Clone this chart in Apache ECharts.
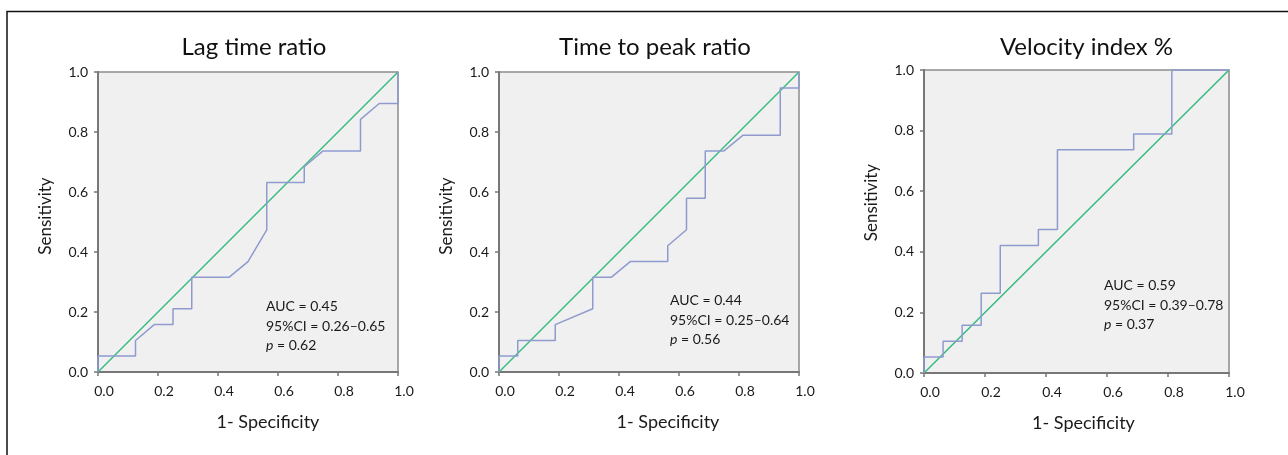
<!DOCTYPE html>
<html>
<head>
<meta charset="utf-8">
<script src="https://cdn.jsdelivr.net/npm/echarts@6/dist/echarts.min.js"></script>
<style>
  html, body { margin: 0; padding: 0; background: #fff; }
  #chart { width: 1288px; height: 455px; }
</style>
</head>
<body>
<div id="chart"></div>
<script>
// panel titles
const titles = ["Lag time ratio", "Time to peak ratio", "Velocity index %"];
const tickLabels = ["0.0", "0.2", "0.4", "0.6", "0.8", "1.0"];

// ROC curves (1 - specificity, sensitivity)
const lagX = [0, 0, 0.125, 0.125, 0.1875, 0.25, 0.25, 0.3125, 0.3125, 0.4375, 0.5, 0.5625, 0.5625, 0.6875, 0.6875, 0.75, 0.875, 0.875, 0.9375, 1, 1];
const lagY = [0, 0.053, 0.053, 0.105, 0.158, 0.158, 0.211, 0.211, 0.316, 0.316, 0.368, 0.474, 0.632, 0.632, 0.684, 0.737, 0.737, 0.842, 0.895, 0.895, 1];

const ttpX = [0, 0, 0.0625, 0.0625, 0.1875, 0.1875, 0.3125, 0.3125, 0.375, 0.4375, 0.5625, 0.5625, 0.625, 0.625, 0.6875, 0.6875, 0.75, 0.8125, 0.9375, 0.9375, 1, 1];
const ttpY = [0, 0.053, 0.053, 0.105, 0.105, 0.158, 0.211, 0.316, 0.316, 0.368, 0.368, 0.421, 0.474, 0.579, 0.579, 0.737, 0.737, 0.789, 0.789, 0.947, 0.947, 1];

const viX = [0, 0, 0.0625, 0.0625, 0.125, 0.125, 0.1875, 0.1875, 0.25, 0.25, 0.375, 0.375, 0.4375, 0.4375, 0.6875, 0.6875, 0.8125, 0.8125, 1];
const viY = [0, 0.053, 0.053, 0.105, 0.105, 0.158, 0.158, 0.263, 0.263, 0.421, 0.421, 0.474, 0.474, 0.737, 0.737, 0.789, 0.789, 1, 1];

// reference line
const refX = [0, 1];
const refY = [0, 1];

// stats text
const aucText = ["AUC = 0.45", "AUC = 0.44", "AUC = 0.59"];
const ciText = ["95%CI = 0.26\u20130.65", "95%CI = 0.25\u20130.64", "95%CI = 0.39\u20130.78"];
const pText = ["0.62", "0.56", "0.37"];

const font = "Lato, 'Open Sans', sans-serif";
const curves = [[lagX, lagY], [ttpX, ttpY], [viX, viY]];
const grids = [
    { left: 98, top: 72, width: 300, height: 300 },
    { left: 499, top: 72, width: 300, height: 300 },
    { left: 924, top: 70, width: 305, height: 303 }
];
const textPos = [[266, 297], [670, 291], [1104, 276]];
// axis names sit a little off-centre in the original
const xNameShift = [40, 38, 14];
const yNameShift = [12, 12, 38];

function pairs(xs, ys) {
    return xs.map((x, i) => [x, ys[i]]);
}

const chart = echarts.init(document.getElementById("chart"));

const xAxis = [];
const yAxis = [];
const series = [];
const title = [];
const graphic = [
    {
        type: "polyline",
        shape: { points: [[7, 460], [7, 11.5], [1290, 11.5]] },
        style: { stroke: "#111", lineWidth: 1.5, fill: null },
        silent: true
    }
];

grids.forEach((g, i) => {
    g.show = true;
    g.backgroundColor = "#f0f0f0";
    g.borderColor = "#8c8c8c";
    g.borderWidth = 1.5;

    xAxis.push({
        gridIndex: i,
        type: "value",
        min: 0,
        max: 1,
        interval: 0.2,
        name: "1- Specificity",
        nameLocation: "middle",
        nameGap: 41,
        nameTextStyle: { fontFamily: font, fontSize: 18, color: "#1a1a1a", padding: [0, 0, 0, xNameShift[i]] },
        axisLine: { lineStyle: { color: "#777", width: 2 } },
        axisTick: { show: true, length: 4, lineStyle: { color: "#777", width: 1.5 } },
        splitLine: { show: false },
        axisLabel: {
            fontFamily: font,
            fontSize: 14,
            color: "#1a1a1a",
            margin: 12,
            padding: [0, 0, 0, 12],
            formatter: v => tickLabels[Math.round(v * 5)]
        }
    });
    yAxis.push({
        gridIndex: i,
        type: "value",
        min: 0,
        max: 1,
        interval: 0.2,
        name: "Sensitivity",
        nameLocation: "middle",
        nameGap: 44,
        nameTextStyle: { fontFamily: font, fontSize: 17, color: "#1a1a1a", padding: [0, 0, 0, yNameShift[i]] },
        axisLine: { lineStyle: { color: "#777", width: 2 } },
        axisTick: { show: true, length: 4, lineStyle: { color: "#777", width: 1.5 } },
        splitLine: { show: false },
        axisLabel: {
            fontFamily: font,
            fontSize: 14,
            color: "#1a1a1a",
            margin: 10,
            padding: [9, 0, 0, 0],
            formatter: v => tickLabels[Math.round(v * 5)]
        }
    });

    series.push({
        type: "line",
        xAxisIndex: i,
        yAxisIndex: i,
        data: pairs(refX, refY),
        symbol: "none",
        lineStyle: { color: "#35bb7d", width: 1.5 },
        silent: true
    });
    series.push({
        type: "line",
        xAxisIndex: i,
        yAxisIndex: i,
        data: pairs(curves[i][0], curves[i][1]),
        symbol: "none",
        lineStyle: { color: "#8f9bcf", width: 1.5 },
        silent: true
    });

    title.push({
        text: titles[i],
        left: g.left + g.width / 2 + (i === 2 ? 5 : 1),
        textAlign: "center",
        top: 30,
        textStyle: { fontFamily: font, fontSize: 24, fontWeight: "normal", color: "#111" }
    });

    graphic.push({
        type: "text",
        left: textPos[i][0],
        top: textPos[i][1],
        style: {
            text: aucText[i] + "\n" + ciText[i] + "\n{it|p} = " + pText[i],
            font: "14px " + font,
            fill: "#1a1a1a",
            lineHeight: 19.5,
            rich: {
                it: { fontStyle: "italic", fontFamily: font, fontSize: 14, fill: "#1a1a1a", lineHeight: 19.5 }
            }
        }
    });
});

chart.setOption({
    backgroundColor: "#fff",
    animation: false,
    title: title,
    grid: grids,
    xAxis: xAxis,
    yAxis: yAxis,
    series: series,
    graphic: graphic
});
</script>
</body>
</html>
